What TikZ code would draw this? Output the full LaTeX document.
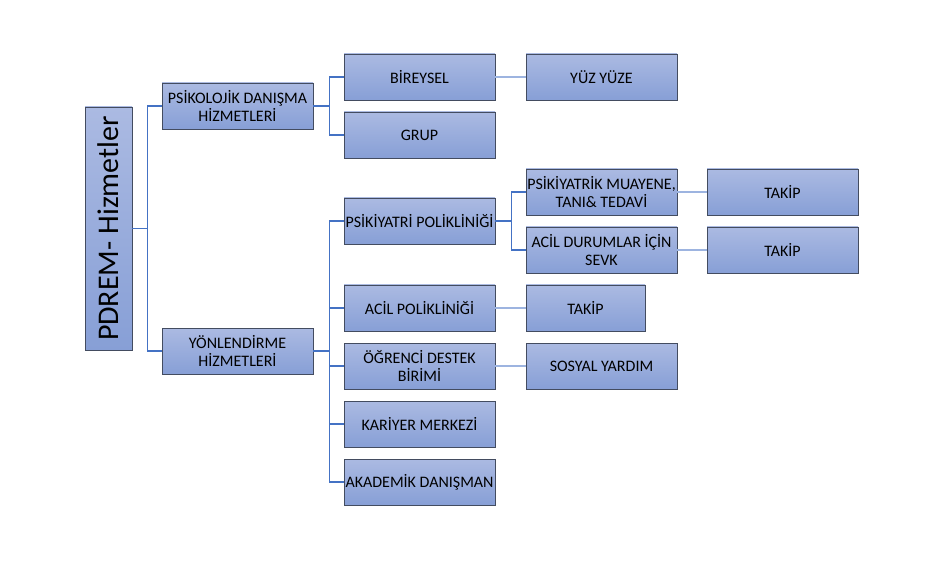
\documentclass[tikz,border=0pt]{standalone}
\usepackage{fontspec}
\setmainfont{Carlito}
\usepackage{graphicx}
\definecolor{boxtop}{HTML}{ABBAE2}
\definecolor{boxbot}{HTML}{879FD6}
\definecolor{boxline}{HTML}{434C60}
\definecolor{conn}{HTML}{4472C4}
\definecolor{connlight}{HTML}{9DB4E0}
\definecolor{txt}{HTML}{000000}
\tikzset{
  orgbox/.style={draw=boxline, line width=0.9pt, top color=boxtop, bottom color=boxbot,
    minimum width=151pt, minimum height=46pt, inner sep=0pt, align=center, text=txt,
    font=\fontsize{16}{17.5}\selectfont},
  rootbox/.style={orgbox, minimum width=47pt, minimum height=243pt, font=\fontsize{30}{32}\selectfont},
  link/.style={draw=conn, line width=1.2pt},
  lightlink/.style={draw=connlight, line width=1.8pt}
}
\begin{document}
\begin{tikzpicture}[x=1pt,y=-1pt]
\useasboundingbox (0,0) rectangle (934,585);
% nodes
\node[rootbox] (root) at (108.5,228.5) {\rotatebox{90}{PDREM- Hizmetler}};
\node[orgbox] (p1) at (237.5,106) {PSİKOLOJİK DANIŞMA\\HİZMETLERİ};
\node[orgbox] (p2) at (237.5,351) {YÖNLENDİRME\\HİZMETLERİ};
\node[orgbox] (b1) at (419.5,77) {BİREYSEL};
\node[orgbox] (b2) at (419.5,135) {GRUP};
\node[orgbox] (c1) at (419.5,221) {PSİKİYATRİ POLİKLİNİĞİ};
\node[orgbox] (c2) at (419.5,308) {ACİL POLİKLİNİĞİ};
\node[orgbox] (c3) at (419.5,366) {ÖĞRENCİ DESTEK\\BİRİMİ};
\node[orgbox] (c4) at (419.5,424) {KARİYER MERKEZİ};
\node[orgbox] (c5) at (419.5,482) {AKADEMİK DANIŞMAN};
\node[orgbox] (d0) at (601.5,77) {YÜZ YÜZE};
\node[orgbox] (d1) at (601.5,192) {PSİKİYATRİK MUAYENE,\\TANI\& TEDAVİ};
\node[orgbox] (d2) at (601.5,250) {ACİL DURUMLAR İÇİN\\SEVK};
\node[orgbox, minimum width=119pt] (d3) at (585.5,308) {TAKİP};
\node[orgbox] (d4) at (601.5,366) {SOSYAL YARDIM};
\node[orgbox] (e1) at (782.5,192) {TAKİP};
\node[orgbox] (e2) at (782.5,250) {TAKİP};
% elbow connectors
\draw[link] (root.east) -- ++(15,0) |- (p1.west);
\draw[link] (root.east) -- ++(15,0) |- (p2.west);
\draw[link] (p1.east) -- ++(16,0) |- (b1.west);
\draw[link] (p1.east) -- ++(16,0) |- (b2.west);
\draw[link] (p2.east) -- ++(16,0) |- (c1.west);
\draw[link] (p2.east) -- ++(16,0) |- (c2.west);
\draw[link] (p2.east) -- ++(16,0) |- (c3.west);
\draw[link] (p2.east) -- ++(16,0) |- (c4.west);
\draw[link] (p2.east) -- ++(16,0) |- (c5.west);
\draw[link] (c1.east) -- ++(16,0) |- (d1.west);
\draw[link] (c1.east) -- ++(16,0) |- (d2.west);
% straight connectors
\draw[lightlink] (b1.east) -- (d0.west);
\draw[lightlink] (c2.east) -- (d3.west);
\draw[lightlink] (c3.east) -- (d4.west);
\draw[lightlink] (d1.east) -- (e1.west);
\draw[lightlink] (d2.east) -- (e2.west);
\end{tikzpicture}
\end{document}
